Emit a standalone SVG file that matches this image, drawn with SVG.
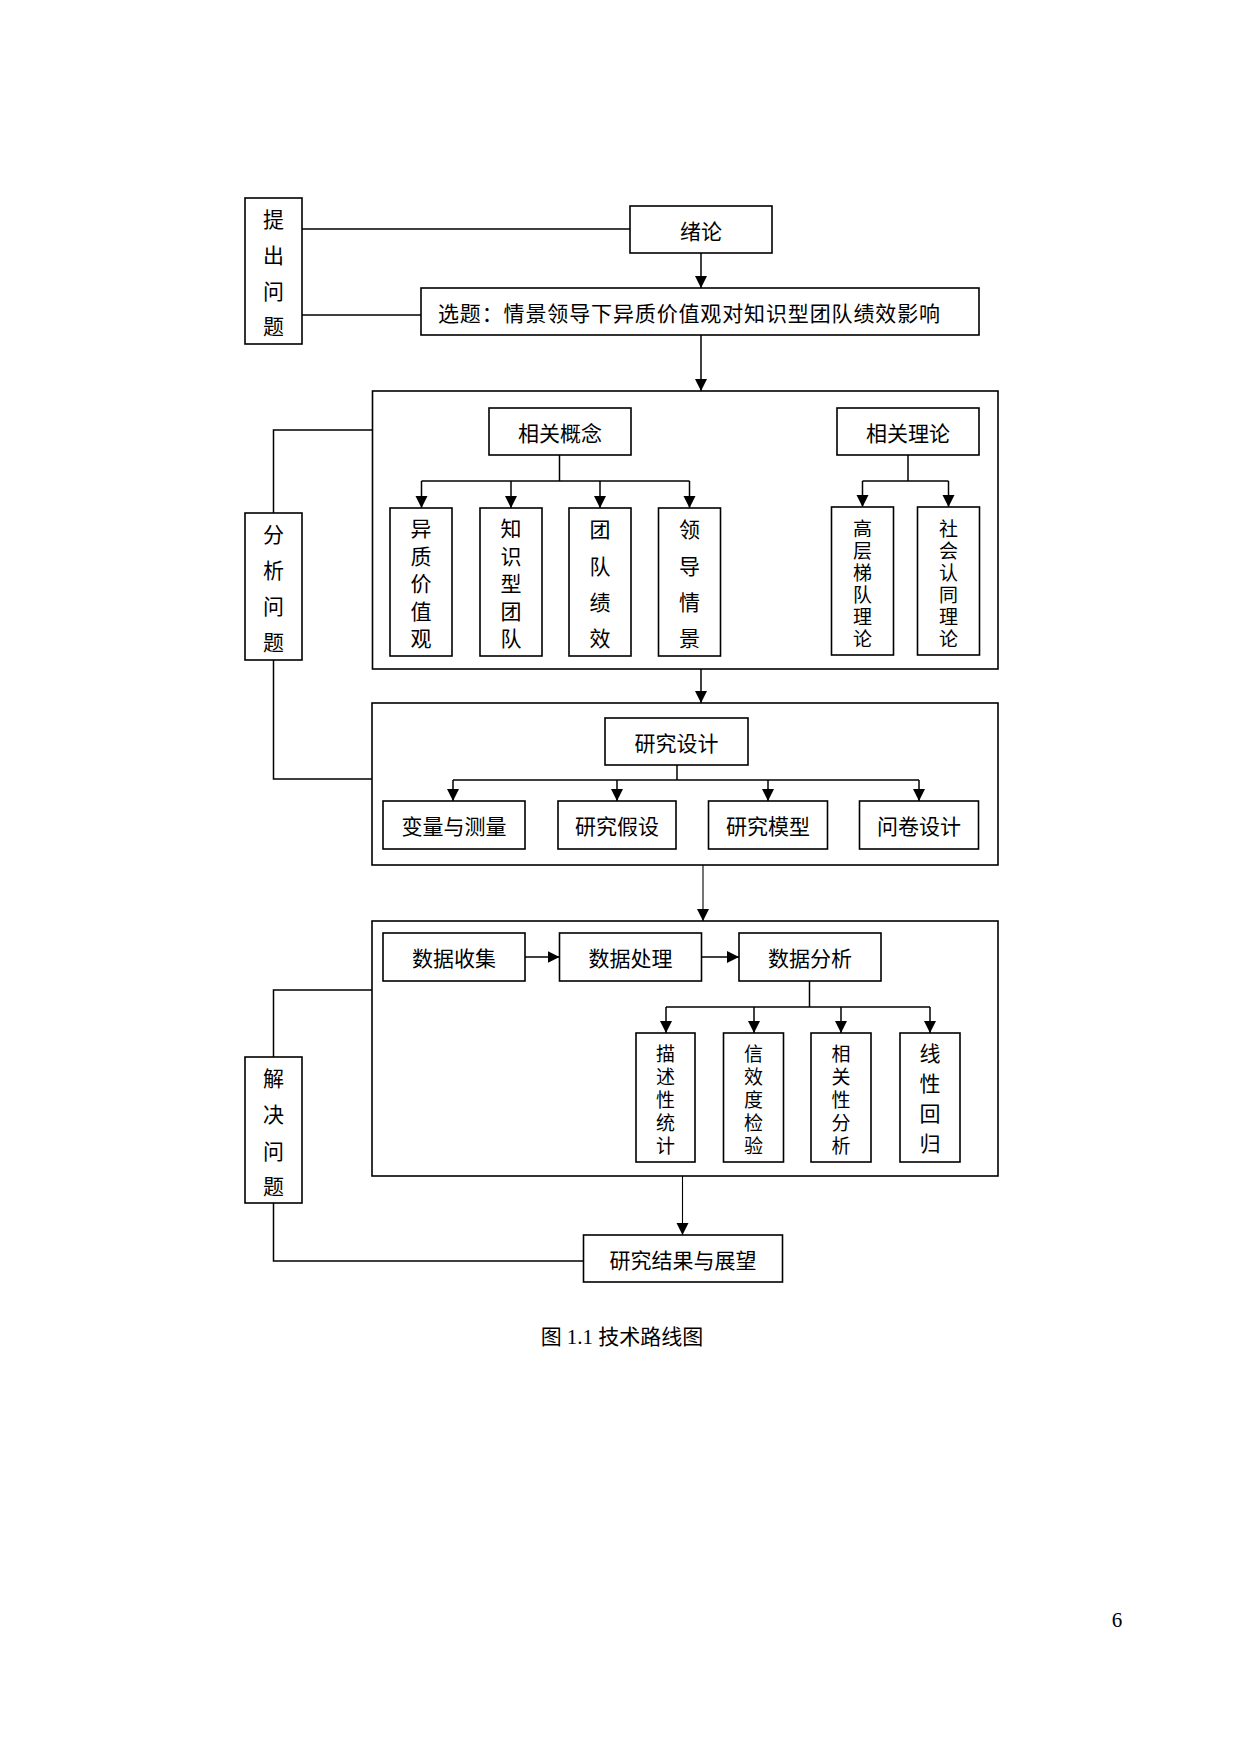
<svg xmlns="http://www.w3.org/2000/svg" width="1240" height="1754" viewBox="0 0 1240 1754">
<style>
.box{fill:#fff;stroke:#000;stroke-width:1.6}
.frame{fill:none;stroke:#000;stroke-width:1.6}
.ln{fill:none;stroke:#000;stroke-width:1.5}
.thin{fill:none;stroke:#000;stroke-width:1.1}
.t{font-family:"Noto Sans CJK SC",sans-serif;font-size:21px;fill:#000;text-anchor:middle;dominant-baseline:central}
.tn{font-family:"Noto Sans CJK SC",sans-serif;font-size:19px;fill:#000;text-anchor:middle;dominant-baseline:central}
.ts{font-family:"Noto Sans CJK SC",sans-serif;font-size:21px;fill:#000;dominant-baseline:central}
.cap{font-family:"Liberation Serif","Noto Sans CJK SC",serif;font-size:21px;fill:#000;text-anchor:middle}
</style>
<defs>
<marker id="ah" markerUnits="userSpaceOnUse" markerWidth="12" markerHeight="14" refX="12" refY="6" orient="auto" viewBox="0 0 12 12">
<path d="M0,0 L12,6 L0,12 z" fill="#000"/>
</marker>
</defs>
<rect width="1240" height="1754" fill="#fff"/>

<g id="tichu">
<rect class="box" x="245" y="198" width="57" height="146"/>
<text class="t"><tspan x="273.5" y="218">提</tspan><tspan x="273.5" y="254">出</tspan><tspan x="273.5" y="290">问</tspan><tspan x="273.5" y="325">题</tspan></text>
</g>
<g id="xulun">
<rect class="box" x="630" y="206" width="142" height="47"/>
<text class="t" x="701" y="230">绪论</text>
</g>
<g id="xuanti">
<rect class="box" x="421" y="288" width="558" height="47"/>
<text class="ts" x="438" y="312" textLength="502">选题：情景领导下异质价值观对知识型团队绩效影响</text>
</g>

<g id="stage1">
<rect class="frame" x="372.5" y="391" width="625.5" height="278"/>
</g>
<g id="fenxi">
<rect class="box" x="245" y="513" width="57" height="147"/>
<text class="t"><tspan x="273.5" y="533">分</tspan><tspan x="273.5" y="569">析</tspan><tspan x="273.5" y="605">问</tspan><tspan x="273.5" y="641">题</tspan></text>
</g>
<g id="xiangguangainian">
<rect class="box" x="489" y="408" width="142" height="47"/>
<text class="t" x="560" y="432">相关概念</text>
</g>
<g id="xiangguanlilun">
<rect class="box" x="837" y="408" width="142" height="47"/>
<text class="t" x="908" y="432">相关理论</text>
</g>
<g id="yizhi">
<rect class="box" x="390" y="508" width="62" height="148"/>
<text class="t"><tspan x="421" y="527">异</tspan><tspan x="421" y="554.5">质</tspan><tspan x="421" y="582">价</tspan><tspan x="421" y="609.5">值</tspan><tspan x="421" y="637">观</tspan></text>
</g>
<g id="zhishi">
<rect class="box" x="480" y="508" width="62" height="148"/>
<text class="t"><tspan x="511" y="527">知</tspan><tspan x="511" y="554.5">识</tspan><tspan x="511" y="582">型</tspan><tspan x="511" y="609.5">团</tspan><tspan x="511" y="637">队</tspan></text>
</g>
<g id="tuandui">
<rect class="box" x="569" y="508" width="62" height="148"/>
<text class="t"><tspan x="600" y="528">团</tspan><tspan x="600" y="564.5">队</tspan><tspan x="600" y="601">绩</tspan><tspan x="600" y="637">效</tspan></text>
</g>
<g id="lingdao">
<rect class="box" x="658.5" y="508" width="62" height="148"/>
<text class="t"><tspan x="689.5" y="528">领</tspan><tspan x="689.5" y="564.5">导</tspan><tspan x="689.5" y="601">情</tspan><tspan x="689.5" y="637">景</tspan></text>
</g>
<g id="gaoceng">
<rect class="box" x="831.5" y="507" width="62" height="148"/>
<text class="tn"><tspan x="862.5" y="527">高</tspan><tspan x="862.5" y="549">层</tspan><tspan x="862.5" y="571">梯</tspan><tspan x="862.5" y="593">队</tspan><tspan x="862.5" y="615">理</tspan><tspan x="862.5" y="637">论</tspan></text>
</g>
<g id="shehui">
<rect class="box" x="917.5" y="507" width="62" height="148"/>
<text class="tn"><tspan x="948.5" y="527">社</tspan><tspan x="948.5" y="549">会</tspan><tspan x="948.5" y="571">认</tspan><tspan x="948.5" y="593">同</tspan><tspan x="948.5" y="615">理</tspan><tspan x="948.5" y="637">论</tspan></text>
</g>

<g id="stage2">
<rect class="frame" x="372" y="703" width="626" height="162"/>
</g>
<g id="yanjiusheji">
<rect class="box" x="605" y="718" width="143" height="47"/>
<text class="t" x="676.5" y="742">研究设计</text>
</g>
<g id="bianliang">
<rect class="box" x="383" y="801" width="142" height="48"/>
<text class="t" x="454" y="825">变量与测量</text>
</g>
<g id="jiashe">
<rect class="box" x="558" y="801" width="118" height="48"/>
<text class="t" x="617" y="825">研究假设</text>
</g>
<g id="moxing">
<rect class="box" x="708.5" y="801" width="119" height="48"/>
<text class="t" x="768" y="825">研究模型</text>
</g>
<g id="wenjuan">
<rect class="box" x="859.5" y="801" width="119" height="48"/>
<text class="t" x="919" y="825">问卷设计</text>
</g>

<g id="stage3">
<rect class="frame" x="372" y="921" width="626" height="255"/>
</g>
<g id="shouji">
<rect class="box" x="383" y="933" width="142" height="48"/>
<text class="t" x="454" y="957">数据收集</text>
</g>
<g id="chuli">
<rect class="box" x="559.5" y="933" width="142" height="48"/>
<text class="t" x="630.5" y="957">数据处理</text>
</g>
<g id="fenxishuju">
<rect class="box" x="739" y="933" width="142" height="48"/>
<text class="t" x="810" y="957">数据分析</text>
</g>
<g id="miaoshu">
<rect class="box" x="636" y="1033" width="59" height="129"/>
<text class="tn"><tspan x="665.5" y="1052">描</tspan><tspan x="665.5" y="1075">述</tspan><tspan x="665.5" y="1098">性</tspan><tspan x="665.5" y="1121">统</tspan><tspan x="665.5" y="1144">计</tspan></text>
</g>
<g id="xinxiao">
<rect class="box" x="723.5" y="1033" width="60" height="129"/>
<text class="tn"><tspan x="753.5" y="1052">信</tspan><tspan x="753.5" y="1075">效</tspan><tspan x="753.5" y="1098">度</tspan><tspan x="753.5" y="1121">检</tspan><tspan x="753.5" y="1144">验</tspan></text>
</g>
<g id="xiangguanxing">
<rect class="box" x="811" y="1033" width="60" height="129"/>
<text class="tn"><tspan x="841" y="1052">相</tspan><tspan x="841" y="1075">关</tspan><tspan x="841" y="1098">性</tspan><tspan x="841" y="1121">分</tspan><tspan x="841" y="1144">析</tspan></text>
</g>
<g id="xianxing">
<rect class="box" x="900" y="1033" width="60" height="129"/>
<text class="t"><tspan x="930" y="1052">线</tspan><tspan x="930" y="1082">性</tspan><tspan x="930" y="1112">回</tspan><tspan x="930" y="1142">归</tspan></text>
</g>
<g id="jiejue">
<rect class="box" x="245" y="1057" width="57" height="146"/>
<text class="t"><tspan x="273.5" y="1077">解</tspan><tspan x="273.5" y="1113">决</tspan><tspan x="273.5" y="1150">问</tspan><tspan x="273.5" y="1185">题</tspan></text>
</g>
<g id="jieguo">
<rect class="box" x="583.5" y="1235" width="199" height="47"/>
<text class="t" x="683" y="1259">研究结果与展望</text>
</g>

<g id="connectors">
<line class="ln" x1="302" y1="229" x2="630" y2="229"/>
<line class="ln" x1="302" y1="315" x2="421" y2="315"/>
<line class="ln" x1="701" y1="253" x2="701" y2="288" marker-end="url(#ah)"/>
<line class="ln" x1="701" y1="335" x2="701" y2="391" marker-end="url(#ah)"/>
<polyline class="ln" points="273.5,513 273.5,430 372.5,430"/>
<polyline class="ln" points="273.5,660 273.5,779 372,779"/>
<line class="ln" x1="559.5" y1="455" x2="559.5" y2="481"/>
<line class="ln" x1="421.5" y1="481" x2="689.5" y2="481"/>
<line class="ln" x1="421.5" y1="481" x2="421.5" y2="508" marker-end="url(#ah)"/>
<line class="ln" x1="511" y1="481" x2="511" y2="508" marker-end="url(#ah)"/>
<line class="ln" x1="600" y1="481" x2="600" y2="508" marker-end="url(#ah)"/>
<line class="ln" x1="689.5" y1="481" x2="689.5" y2="508" marker-end="url(#ah)"/>
<line class="ln" x1="908" y1="455" x2="908" y2="481"/>
<line class="ln" x1="862.5" y1="481" x2="948.5" y2="481"/>
<line class="ln" x1="862.5" y1="481" x2="862.5" y2="507" marker-end="url(#ah)"/>
<line class="ln" x1="948.5" y1="481" x2="948.5" y2="507" marker-end="url(#ah)"/>
<line class="ln" x1="701" y1="669" x2="701" y2="703" marker-end="url(#ah)"/>
<line class="ln" x1="677" y1="765" x2="677" y2="780"/>
<line class="ln" x1="453" y1="780" x2="919" y2="780"/>
<line class="ln" x1="453" y1="780" x2="453" y2="801" marker-end="url(#ah)"/>
<line class="ln" x1="617" y1="780" x2="617" y2="801" marker-end="url(#ah)"/>
<line class="ln" x1="768" y1="780" x2="768" y2="801" marker-end="url(#ah)"/>
<line class="ln" x1="919" y1="780" x2="919" y2="801" marker-end="url(#ah)"/>
<line class="thin" x1="703" y1="865" x2="703" y2="921" marker-end="url(#ah)"/>
<line class="ln" x1="525" y1="957" x2="559.5" y2="957" marker-end="url(#ah)"/>
<line class="ln" x1="701.5" y1="957" x2="739" y2="957" marker-end="url(#ah)"/>
<polyline class="ln" points="273.5,1057 273.5,990 372,990"/>
<polyline class="ln" points="273.5,1203 273.5,1261 583.5,1261"/>
<line class="ln" x1="809.5" y1="981" x2="809.5" y2="1007"/>
<line class="ln" x1="666" y1="1007" x2="930" y2="1007"/>
<line class="ln" x1="666" y1="1007" x2="666" y2="1033" marker-end="url(#ah)"/>
<line class="ln" x1="754" y1="1007" x2="754" y2="1033" marker-end="url(#ah)"/>
<line class="ln" x1="841" y1="1007" x2="841" y2="1033" marker-end="url(#ah)"/>
<line class="ln" x1="930" y1="1007" x2="930" y2="1033" marker-end="url(#ah)"/>
<line class="thin" x1="682.5" y1="1176" x2="682.5" y2="1235" marker-end="url(#ah)"/>
</g>

<text class="cap" x="622" y="1344">图 1.1 技术路线图</text>
<text class="cap" x="1117" y="1627" font-size="19">6</text>
</svg>
